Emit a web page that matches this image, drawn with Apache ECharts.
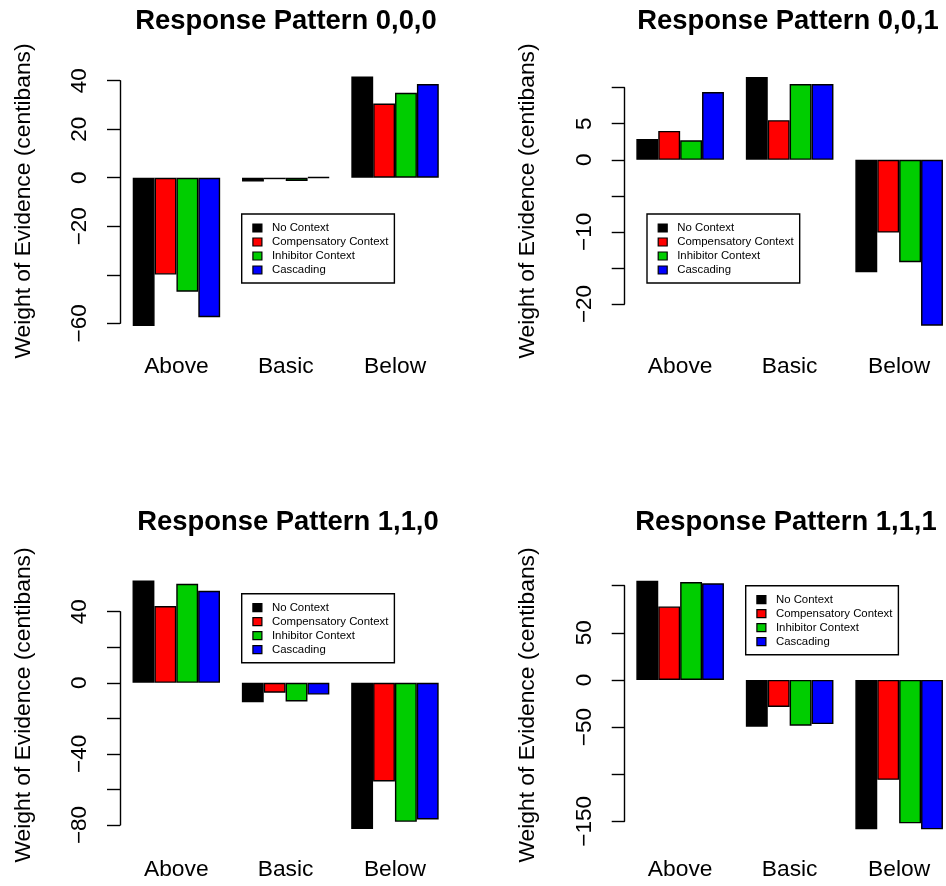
<!DOCTYPE html>
<html><head><meta charset="utf-8">
<script src="https://cdn.jsdelivr.net/npm/echarts@6/dist/echarts.min.js"></script>
<style>html,body{margin:0;padding:0;background:#fff}#chart{width:946px;height:886px}</style>
</head><body><div id="chart"></div>
<script>
// ---------------- DATA ----------------
const categories = ['Above', 'Basic', 'Below'];
const seriesNames = ['No Context', 'Compensatory Context', 'Inhibitor Context', 'Cascading'];
const panelTitles = ['Response Pattern 0,0,0', 'Response Pattern 0,0,1', 'Response Pattern 1,1,0', 'Response Pattern 1,1,1'];
const yAxisTitle = 'Weight of Evidence (centibans)';

// one row per context (No Context, Compensatory, Inhibitor, Cascading), values for Above/Basic/Below
const pattern000 = [
  [-61.1, -1.6, 41.7],
  [-39.9, -0.6, 30.6],
  [-47.0, -1.3, 35.0],
  [-57.5, 0.2, 38.6]
];
const pattern001 = [
  [2.9, 11.5, -15.6],
  [4.0, 5.5, -10.1],
  [2.7, 10.5, -14.2],
  [9.4, 10.5, -23.0]
];
const pattern110 = [
  [57.6, -10.9, -82.2],
  [43.2, -5.6, -55.5],
  [55.7, -10.5, -78.2],
  [51.8, -6.6, -76.9]
];
const pattern111 = [
  [105.3, -49.6, -158.5],
  [78.0, -28.7, -106.0],
  [103.9, -48.6, -152.1],
  [102.5, -46.8, -158.5]
];

// y axis tick range [min, max, step] and which tick values carry labels
const yRange000 = [-60, 40, 20];
const yRange001 = [-20, 10, 5];
const yRange110 = [-80, 40, 20];
const yRange111 = [-150, 100, 50];
const yLabels000 = [40, 20, 0, -20, -60];
const yLabels001 = [5, 0, -10, -20];
const yLabels110 = [40, 0, -40, -80];
const yLabels111 = [50, 0, -50, -150];

const panelData = [pattern000, pattern001, pattern110, pattern111];
const panelRanges = [yRange000, yRange001, yRange110, yRange111];
const panelLabels = [yLabels000, yLabels001, yLabels110, yLabels111];

// ---------------- STYLE / LAYOUT ----------------
const colors = ['#000000', '#FF0000', '#00CD00', '#0000FF'];
const FONT = 'Liberation Sans, Arial, Helvetica, sans-serif';
const LW = 1.4;
const layout = [
  {grid: {left: 121.8, top: 80.7, width: 327.9, height: 242.6}, yOffset: 1.8, xLabelY: 367, titleX: 286, titleY: 7.8, ylabX: 23.5, ylabY: 201, legend: {left: 241.7, top: 214}},
  {grid: {left: 625.4, top: 87.7, width: 328.5, height: 216.3}, yOffset: 0.7, xLabelY: 367, titleX: 788, titleY: 7.8, ylabX: 528, ylabY: 201, legend: {left: 647, top: 214}},
  {grid: {left: 121.6, top: 611.7, width: 328.0, height: 213.3}, yOffset: 1.6, xLabelY: 870, titleX: 288, titleY: 508.6, ylabX: 23.5, ylabY: 705, legend: {left: 241.7, top: 593.7}},
  {grid: {left: 625.4, top: 585.7, width: 328.5, height: 235.6}, yOffset: 0.7, xLabelY: 870, titleX: 786, titleY: 508.6, ylabX: 528, ylabY: 705, legend: {left: 745.7, top: 585.7}}
];

const fmt = v => (v < 0 ? '\u2212' + Math.abs(v) : String(v));

const option = {
  animation: false,
  backgroundColor: '#ffffff',
  title: [], grid: [], xAxis: [], yAxis: [], series: [], legend: [], graphic: []
};

layout.forEach((L, p) => {
  const g = L.grid;
  option.grid.push({left: g.left, top: g.top, width: g.width, height: g.height, containLabel: false, outerBoundsMode: 'none'});
  option.title.push({
    text: panelTitles[p], left: L.titleX, top: L.titleY, textAlign: 'center', padding: 0,
    textStyle: {fontFamily: FONT, fontSize: 27.4, fontWeight: 'bold', color: '#000'}
  });
  option.xAxis.push({
    type: 'category', gridIndex: p, data: categories,
    axisLine: {show: false, onZero: false}, axisTick: {show: false}, splitLine: {show: false},
    axisLabel: {
      fontFamily: FONT, fontSize: 22.8, color: '#000', verticalAlign: 'middle',
      margin: L.xLabelY - (g.top + g.height), interval: 0
    }
  });
  const rng = panelRanges[p], shown = panelLabels[p];
  option.yAxis.push({
    type: 'value', gridIndex: p, min: rng[0], max: rng[1], interval: rng[2], offset: L.yOffset,
    axisLine: {show: true, onZero: false, lineStyle: {color: '#000', width: LW}},
    axisTick: {show: true, length: 13, lineStyle: {color: '#000', width: LW}},
    splitLine: {show: false},
    axisLabel: {
      rotate: 90, margin: 40, verticalAlign: 'middle', align: 'center',
      fontFamily: FONT, fontSize: 22.5, color: '#000',
      formatter: v => (shown.indexOf(v) >= 0 ? fmt(v) : '')
    }
  });
  panelData[p].forEach((vals, s) => {
    option.series.push({
      type: 'bar', name: seriesNames[s], xAxisIndex: p, yAxisIndex: p, data: vals,
      barGap: '0%', barCategoryGap: '20%', clip: false,
      itemStyle: {color: colors[s], borderColor: '#000', borderWidth: LW},
      emphasis: {disabled: true}
    });
  });
  option.legend.push({
    orient: 'vertical', left: L.legend.left, top: L.legend.top,
    data: seriesNames, selectedMode: false,
    padding: [7, 6, 6, 10.6], itemGap: 0, itemWidth: 9, itemHeight: 8, icon: 'rect',
    itemStyle: {borderColor: '#000', borderWidth: 1.2},
    borderColor: '#000', borderWidth: LW, backgroundColor: '#fff', borderRadius: 0,
    textStyle: {fontFamily: FONT, fontSize: 11.4, color: '#000', lineHeight: 14, padding: [0, 0, 0, 5]}
  });
  option.graphic.push({
    type: 'text', x: L.ylabX, y: L.ylabY, rotation: Math.PI / 2,
    style: {text: yAxisTitle, fontFamily: FONT, fontSize: 22.8, fill: '#000', align: 'center', verticalAlign: 'middle'}
  });
});

const chart = echarts.init(document.getElementById('chart'), null, {renderer: 'canvas'});
chart.setOption(option);
</script>
</body></html>
